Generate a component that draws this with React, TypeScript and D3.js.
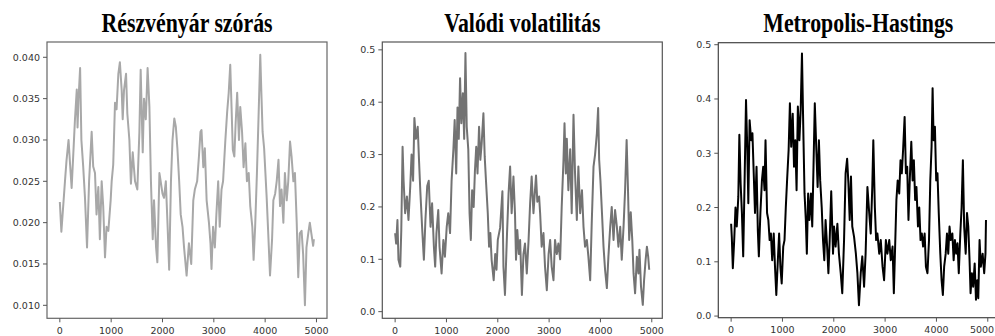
import React from "react";
import * as d3 from "d3";

// ---------- DATA ----------
const titles = ["Részvényár szórás", "Valódi volatilitás", "Metropolis-Hastings"];
const xTicks = [0, 1000, 2000, 3000, 4000, 5000];
const stdYTicks = [0.01, 0.015, 0.02, 0.025, 0.03, 0.035, 0.04];
const volYTicks = [0, 0.1, 0.2, 0.3, 0.4, 0.5];

const stdT = [0,30,60,100,130,170,200,230,260,295,330,345,365,395,420,455,490,530,570,620,650,685,715,750,780,815,845,880,910,945,990,1010,1040,1075,1105,1140,1170,1205,1225,1250,1290,1315,1355,1385,1420,1465,1510,1550,1575,1615,1640,1675,1710,1745,1775,1810,1835,1875,1900,1940,1965,2000,2030,2065,2100,2130,2165,2195,2230,2260,2290,2325,2355,2390,2420,2470,2515,2560,2600,2630,2675,2710,2740,2760,2795,2825,2860,2905,2935,2955,2985,3020,3050,3085,3115,3150,3180,3225,3260,3290,3320,3345,3370,3400,3425,3455,3490,3515,3550,3580,3615,3645,3680,3710,3750,3775,3805,3840,3870,3905,3925,3950,3980,4005,4030,4065,4095,4135,4160,4195,4225,4260,4290,4320,4355,4385,4420,4450,4485,4515,4550,4580,4615,4645,4675,4710,4740,4775,4805,4840,4870,4900,4935,4950];
const stdV = [0.0225,0.0189,0.0215,0.025,0.0275,0.030,0.027,0.0242,0.028,0.0325,0.0361,0.0315,0.035,0.0387,0.030,0.0268,0.023,0.017,0.025,0.031,0.0268,0.026,0.021,0.0243,0.018,0.025,0.022,0.0158,0.0195,0.019,0.0227,0.025,0.027,0.0345,0.0337,0.038,0.0394,0.036,0.0325,0.036,0.038,0.0332,0.030,0.0247,0.0285,0.025,0.024,0.031,0.0385,0.0285,0.035,0.0325,0.0387,0.034,0.025,0.018,0.0227,0.017,0.0152,0.026,0.025,0.0235,0.023,0.025,0.0195,0.0143,0.025,0.030,0.0326,0.0316,0.029,0.025,0.021,0.0195,0.017,0.0136,0.0175,0.015,0.0227,0.024,0.025,0.028,0.031,0.0312,0.0267,0.029,0.0227,0.020,0.0175,0.0144,0.0195,0.017,0.021,0.025,0.0195,0.024,0.025,0.030,0.0334,0.0357,0.0391,0.034,0.0288,0.028,0.032,0.0357,0.030,0.034,0.031,0.0267,0.0296,0.025,0.026,0.022,0.0195,0.0155,0.0195,0.026,0.0325,0.0403,0.036,0.031,0.029,0.026,0.023,0.018,0.0136,0.018,0.0227,0.0235,0.025,0.0276,0.022,0.024,0.020,0.026,0.0227,0.025,0.0298,0.028,0.025,0.026,0.020,0.0134,0.0187,0.019,0.0162,0.010,0.017,0.0187,0.020,0.0187,0.0172,0.018];

const volT = [0,20,45,65,100,120,145,165,195,230,260,295,320,350,375,405,440,465,490,525,560,590,625,655,690,720,755,780,805,840,865,905,940,970,1005,1035,1070,1100,1135,1160,1190,1215,1240,1265,1290,1320,1345,1370,1395,1425,1450,1475,1500,1530,1555,1580,1605,1635,1660,1685,1720,1745,1770,1805,1830,1855,1880,1920,1950,1975,2000,2045,2090,2110,2140,2180,2210,2240,2270,2305,2335,2355,2380,2410,2435,2470,2500,2530,2565,2600,2630,2660,2695,2725,2745,2770,2805,2825,2855,2890,2920,2955,2990,3020,3050,3085,3115,3150,3180,3215,3245,3280,3300,3325,3345,3375,3410,3440,3475,3505,3540,3570,3605,3640,3670,3700,3735,3765,3800,3830,3865,3895,3930,3955,3975,4000,4030,4060,4090,4125,4155,4190,4220,4255,4285,4320,4350,4385,4415,4450,4480,4510,4535,4560,4590,4620,4645,4675,4710,4740,4760,4790,4825,4850,4880,4905,4930,4950];
const volV = [0.15,0.13,0.175,0.099,0.086,0.156,0.315,0.25,0.188,0.22,0.175,0.24,0.30,0.25,0.37,0.33,0.353,0.29,0.232,0.162,0.099,0.175,0.24,0.25,0.162,0.207,0.124,0.086,0.15,0.194,0.124,0.073,0.137,0.105,0.162,0.188,0.15,0.25,0.31,0.366,0.264,0.39,0.33,0.446,0.36,0.417,0.33,0.494,0.353,0.31,0.188,0.137,0.232,0.20,0.27,0.315,0.264,0.353,0.29,0.32,0.379,0.296,0.25,0.188,0.124,0.15,0.099,0.06,0.11,0.08,0.137,0.16,0.23,0.086,0.032,0.15,0.226,0.277,0.188,0.258,0.188,0.099,0.156,0.11,0.137,0.032,0.11,0.13,0.073,0.137,0.207,0.258,0.188,0.232,0.26,0.21,0.22,0.188,0.124,0.15,0.086,0.041,0.11,0.137,0.086,0.06,0.137,0.11,0.13,0.1,0.20,0.29,0.36,0.264,0.33,0.232,0.31,0.188,0.376,0.264,0.175,0.277,0.188,0.232,0.162,0.124,0.137,0.105,0.06,0.169,0.277,0.30,0.34,0.389,0.29,0.25,0.188,0.124,0.08,0.045,0.105,0.162,0.20,0.137,0.194,0.162,0.124,0.162,0.099,0.162,0.232,0.328,0.239,0.137,0.19,0.137,0.073,0.035,0.105,0.073,0.118,0.048,0.013,0.06,0.099,0.124,0.105,0.08];

const mhT = [0,13,33,60,85,110,140,160,185,210,235,265,290,315,335,360,390,415,440,465,495,520,540,570,600,625,650,670,700,725,750,775,800,830,855,880,910,935,960,985,1015,1040,1065,1090,1120,1145,1170,1200,1225,1250,1275,1300,1330,1355,1380,1410,1430,1455,1475,1500,1525,1555,1580,1605,1630,1660,1685,1710,1735,1765,1790,1815,1840,1870,1895,1920,1950,1985,2005,2035,2070,2100,2135,2165,2200,2230,2260,2285,2310,2335,2360,2395,2430,2460,2490,2525,2555,2590,2620,2655,2690,2720,2750,2770,2800,2825,2850,2885,2915,2950,2980,3015,3045,3080,3110,3145,3170,3195,3220,3245,3275,3300,3325,3350,3380,3405,3430,3455,3480,3510,3535,3560,3585,3610,3640,3665,3690,3715,3740,3770,3795,3825,3855,3880,3905,3925,3945,3970,3995,4020,4045,4075,4100,4125,4150,4180,4205,4230,4255,4280,4310,4335,4360,4385,4410,4435,4465,4490,4515,4540,4570,4595,4620,4645,4665,4690,4715,4745,4770,4795,4815,4840,4865,4900,4930,4955,4965];
const mhV = [0.17,0.146,0.088,0.14,0.2,0.165,0.22,0.334,0.244,0.19,0.11,0.263,0.398,0.306,0.208,0.361,0.324,0.337,0.263,0.19,0.275,0.158,0.11,0.19,0.25,0.275,0.232,0.324,0.19,0.177,0.14,0.152,0.103,0.152,0.09,0.039,0.103,0.152,0.09,0.06,0.128,0.14,0.2,0.25,0.306,0.392,0.312,0.373,0.275,0.324,0.232,0.386,0.324,0.38,0.484,0.324,0.226,0.177,0.115,0.226,0.177,0.226,0.165,0.275,0.392,0.306,0.238,0.324,0.25,0.2,0.14,0.103,0.177,0.128,0.079,0.14,0.23,0.115,0.165,0.128,0.17,0.115,0.079,0.042,0.14,0.263,0.29,0.244,0.177,0.257,0.165,0.146,0.115,0.079,0.02,0.079,0.11,0.054,0.115,0.238,0.19,0.152,0.238,0.324,0.2,0.14,0.152,0.115,0.14,0.091,0.066,0.14,0.115,0.14,0.103,0.128,0.042,0.128,0.214,0.25,0.226,0.287,0.263,0.306,0.367,0.263,0.275,0.177,0.25,0.321,0.25,0.287,0.214,0.238,0.165,0.2,0.14,0.152,0.128,0.152,0.091,0.079,0.14,0.25,0.312,0.42,0.324,0.349,0.25,0.263,0.19,0.115,0.066,0.039,0.091,0.115,0.152,0.115,0.165,0.14,0.152,0.103,0.14,0.115,0.134,0.079,0.152,0.2,0.287,0.165,0.115,0.19,0.165,0.103,0.042,0.079,0.054,0.097,0.03,0.066,0.033,0.14,0.091,0.115,0.079,0.115,0.177];

// ---------- LAYOUT ----------
type Panel = {
  title: string;
  t: number[];
  v: number[];
  left: number;
  top: number;
  width: number;
  height: number;
  yDomain: [number, number];
  yTicks: number[];
  yFmt: (n: number) => string;
  color: string;
  frame: string;
};

const xDomain: [number, number] = [-250, 5205];

const panels: Panel[] = [
  { title: titles[0], t: stdT, v: stdV, left: 47, top: 42, width: 280, height: 276.3,
    yDomain: [0.00843, 0.04185], yTicks: stdYTicks, yFmt: d3.format(".3f"), color: "#a8a8a8", frame: "#666" },
  { title: titles[1], t: volT, v: volV, left: 382.3, top: 42, width: 280, height: 276.3,
    yDomain: [-0.0127, 0.515], yTicks: volYTicks, yFmt: d3.format(".1f"), color: "#737373", frame: "#555" },
  { title: titles[2], t: mhT, v: mhV, left: 718.3, top: 42.7, width: 280, height: 275,
    yDomain: [-0.003, 0.5037], yTicks: volYTicks, yFmt: d3.format(".1f"), color: "#000000", frame: "#444" },
];

const tickFont = "'DejaVu Sans', sans-serif";

function PanelView({ p }: { p: Panel }) {
  const x = d3.scaleLinear().domain(xDomain).range([p.left, p.left + p.width]);
  const y = d3.scaleLinear().domain(p.yDomain).range([p.top + p.height, p.top]);
  const pts = p.t.map((t, i) => [t, p.v[i]] as [number, number]);
  const line = d3.line<[number, number]>().x((d) => x(d[0])).y((d) => y(d[1]));
  const bottom = p.top + p.height;
  const cx = p.left + p.width / 2;
  return (
    <g>
      <text
        transform={`translate(${cx},31.5) scale(0.78,1)`}
        textAnchor="middle"
        fontFamily="'Liberation Serif', 'Times New Roman', serif"
        fontWeight="bold"
        fontSize={28}
        fill="#000"
      >
        {p.title}
      </text>
      <path d={line(pts) || ""} fill="none" stroke={p.color} strokeWidth={2} strokeLinejoin="round" />
      <rect x={p.left} y={p.top} width={p.width} height={p.height} fill="none" stroke={p.frame} strokeWidth={1.2} />
      {p.yTicks.map((tv) => (
        <g key={"y" + tv}>
          <line x1={p.left - 4} x2={p.left} y1={y(tv)} y2={y(tv)} stroke="#555" strokeWidth={1} />
          <text x={p.left - 7} y={y(tv)} dy="0.35em" textAnchor="end" fontFamily={tickFont} fontSize={9.5} fill="#333">
            {p.yFmt(tv)}
          </text>
        </g>
      ))}
      {xTicks.map((tv) => (
        <g key={"x" + tv}>
          <line x1={x(tv)} x2={x(tv)} y1={bottom} y2={bottom + 4} stroke="#555" strokeWidth={1} />
          <text
            x={Math.min(x(tv), 995 - 13)}
            y={bottom + 15.5}
            textAnchor="middle"
            fontFamily={tickFont}
            fontSize={9.5}
            fill="#333"
          >
            {tv}
          </text>
        </g>
      ))}
    </g>
  );
}

export default function App() {
  return (
    <svg
      width={995}
      height={336}
      viewBox="0 0 995 336"
      style={{ position: "absolute", left: 0, top: 0, background: "#fff" }}
    >
      <rect x={0} y={0} width={995} height={336} fill="#fff" />
      {panels.map((p, i) => (
        <PanelView key={i} p={p} />
      ))}
    </svg>
  );
}
